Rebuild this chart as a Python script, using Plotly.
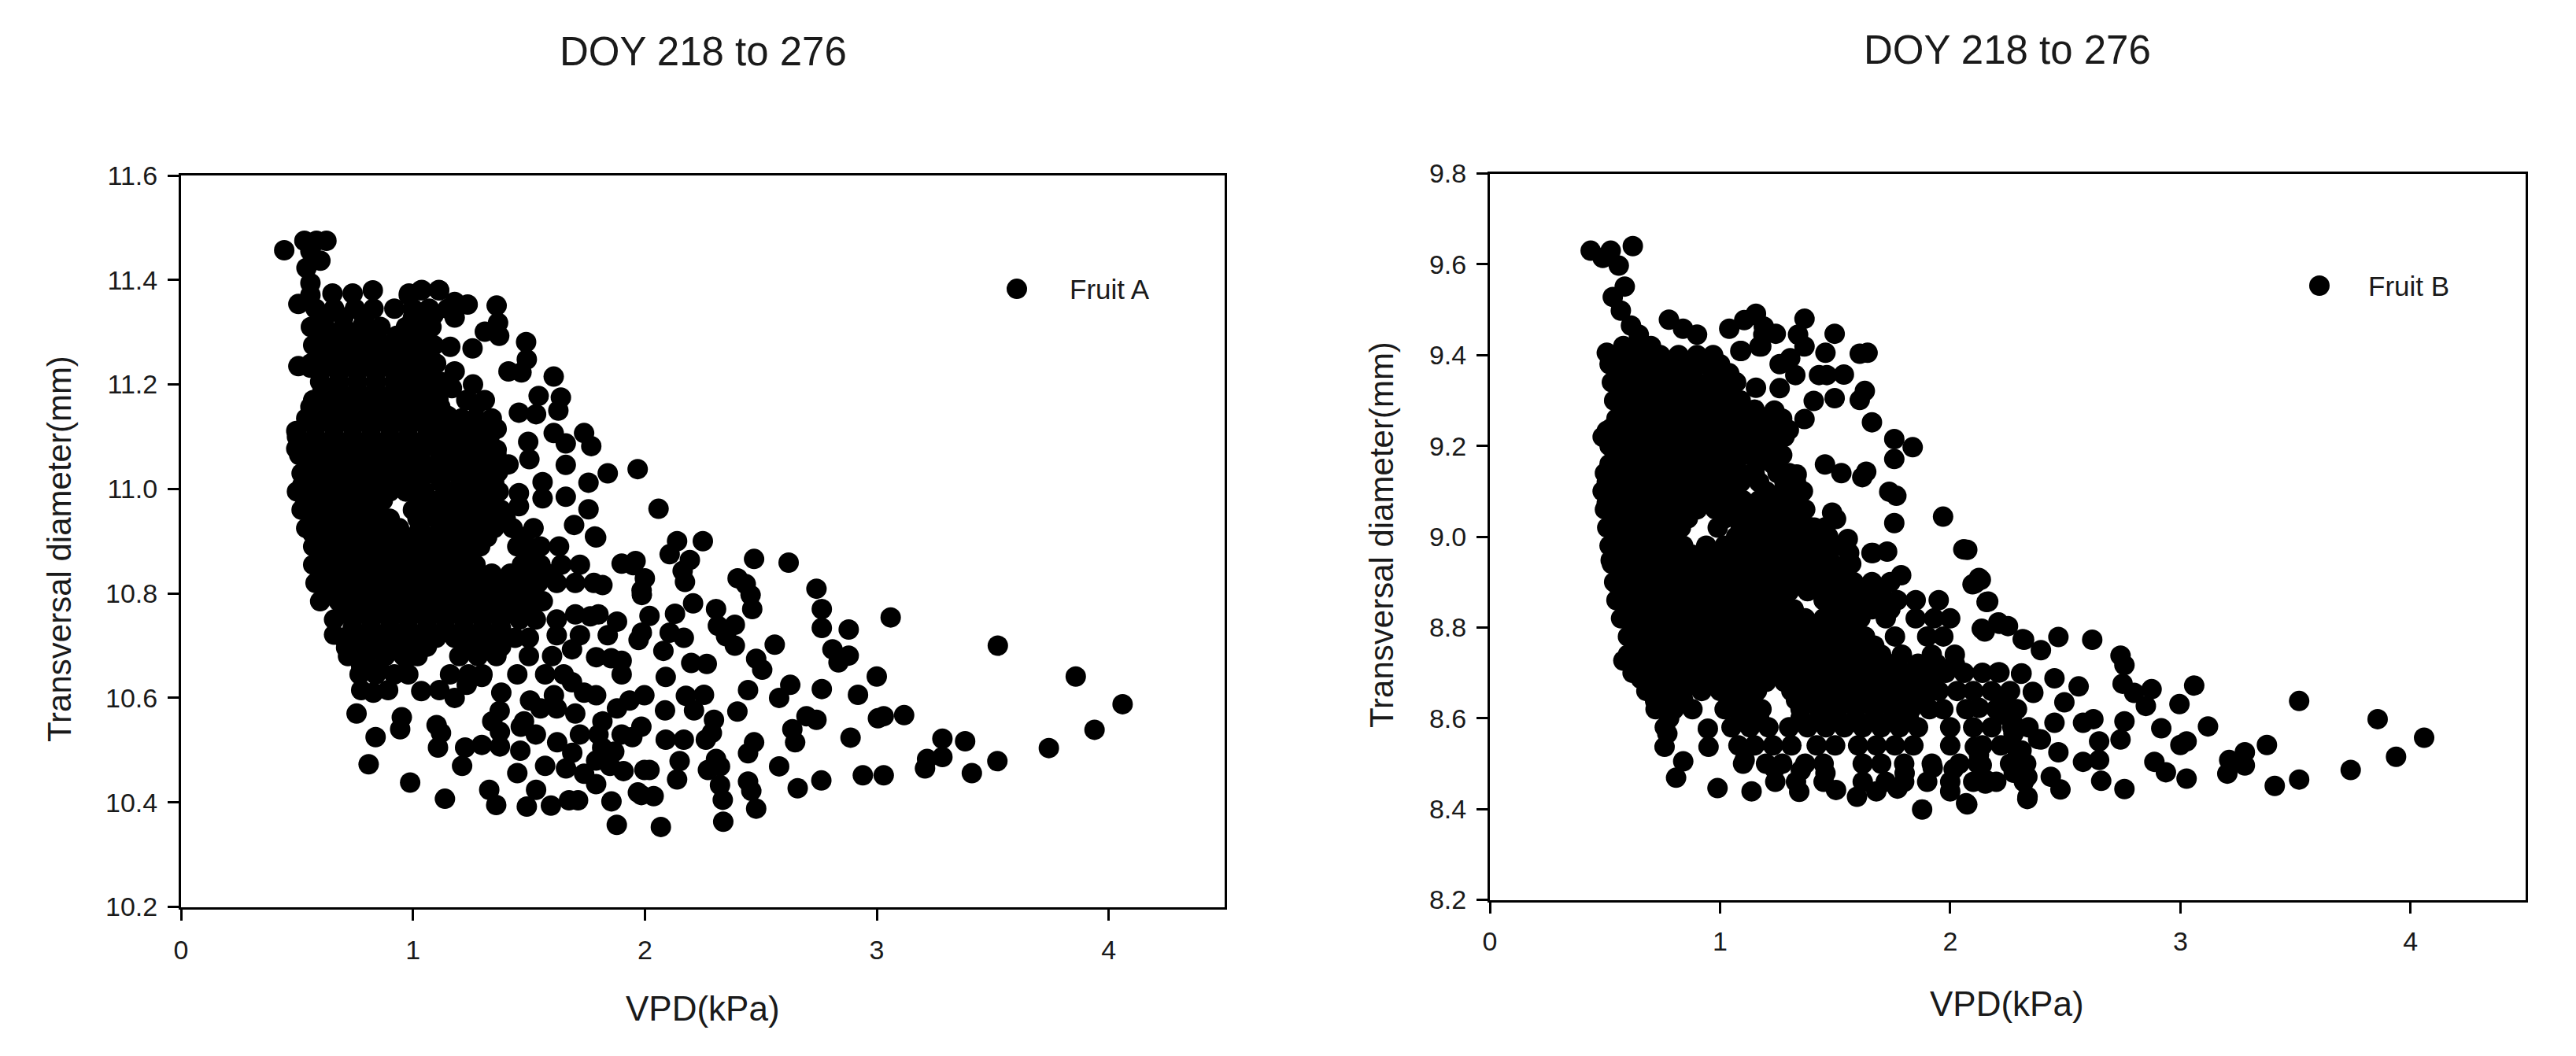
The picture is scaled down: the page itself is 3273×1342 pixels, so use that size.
import plotly.graph_objects as go

W, H = 3273, 1342
PAGE_GAP = 8  # browser body margin in the page that write_html makes

title_text = 'DOY 218 to 276'
xlabel = 'VPD(kPa)'
ylabel = 'Transversal diameter(mm)'
x_ticks = [0, 1, 2, 3, 4]
a_ticks = [10.2, 10.4, 10.6, 10.8, 11.0, 11.2, 11.4, 11.6]
b_ticks = [8.2, 8.4, 8.6, 8.8, 9.0, 9.2, 9.4, 9.6, 9.8]

# Fruit A: points that can be told apart, (VPD, diameter)
fruit_a_points = [
    (2.059, 10.962), (2.139, 10.900), (2.25, 10.900), (2.107, 10.875), (2.194, 10.864), (2.163, 10.843),
    (2.173, 10.822), (2.471, 10.866), (2.62, 10.859), (2.40, 10.829), (2.435, 10.818), (2.456, 10.797),
    (2.463, 10.77), (2.74, 10.809), (2.763, 10.77), (2.763, 10.734), (3.06, 10.754), (2.879, 10.731),
    (3.522, 10.70), (3.858, 10.641), (4.06, 10.588), (3.939, 10.539), (3.742, 10.504), (3.52, 10.479),
    (3.41, 10.456), (3.381, 10.517), (3.283, 10.522), (3.283, 10.487), (3.217, 10.483), (3.208, 10.465),
    (3.118, 10.567), (3.03, 10.565), (3.005, 10.561), (3.0, 10.641), (2.919, 10.606), (2.809, 10.693),
    (2.835, 10.668), (2.879, 10.681), (3.03, 10.452), (2.94, 10.452), (2.887, 10.524), (2.763, 10.617),
    (2.627, 10.625), (2.579, 10.6), (2.56, 10.702), (2.48, 10.675), (2.506, 10.654), (2.445, 10.615),
    (2.399, 10.574), (2.697, 10.565), (2.74, 10.558), (2.636, 10.54), (2.648, 10.515), (2.761, 10.442),
    (2.659, 10.427), (2.579, 10.469), (2.471, 10.515), (2.445, 10.494), (2.445, 10.44), (2.459, 10.422),
    (2.48, 10.388), (2.338, 10.363), (2.336, 10.405), (2.324, 10.433), (2.324, 10.469), (2.272, 10.462),
    (2.307, 10.483), (2.298, 10.558), (2.289, 10.533), (2.263, 10.52), (2.168, 10.52), (2.09, 10.52),
    (2.15, 10.479), (2.139, 10.444), (2.02, 10.462), (2.038, 10.412), (2.069, 10.353), (1.97, 10.419),
    (2.087, 10.576), (2.212, 10.576), (2.255, 10.606), (2.177, 10.604), (2.09, 10.64), (2.2, 10.667),
    (2.267, 10.665), (2.08, 10.69), (2.107, 10.725), (2.168, 10.715), (2.13, 10.761), (2.208, 10.781),
    (2.307, 10.77), (2.315, 10.738), (2.388, 10.74), (2.35, 10.718), (2.388, 10.70), (2.02, 10.757),
    (1.987, 10.725), (2.0, 10.829), (1.95, 10.854), (1.987, 10.797),
    (1.038, 11.381), (1.112, 11.381), (0.982, 11.371), (1.18, 11.358), (1.236, 11.353), (1.089, 11.333),
    (1.18, 11.328), (1.361, 11.351), (1.367, 11.318), (1.31, 11.301), (1.372, 11.293), (1.161, 11.272),
    (1.257, 11.269), (1.488, 11.281), (1.491, 11.248), (1.412, 11.225), (1.468, 11.223), (1.18, 11.225),
    (1.607, 11.215), (1.542, 11.178), (1.638, 11.175), (1.627, 11.15), (1.457, 11.146), (1.531, 11.143),
    (1.259, 11.2), (1.168, 11.193), (1.276, 11.162), (1.118, 11.157), (1.607, 11.107), (1.659, 11.087),
    (1.738, 11.107), (1.769, 11.082), (1.497, 11.09), (1.502, 11.057), (1.361, 11.115), (1.361, 11.075),
    (1.172, 11.082), (1.659, 11.046), (1.84, 11.03), (1.969, 11.038), (1.559, 11.013), (1.757, 11.012),
    (1.659, 10.985), (1.457, 10.992), (1.559, 10.982), (1.757, 10.961), (1.785, 10.909), (1.695, 10.931),
    (1.457, 10.967), (1.367, 11.032), (1.412, 11.047),
    (0.445, 11.457), (0.532, 11.475), (0.584, 11.475), (0.627, 11.475), (0.558, 11.455), (0.601, 11.437),
    (0.541, 11.423), (0.558, 11.394), (0.506, 11.354), (0.558, 11.371), (0.506, 11.235), (0.558, 11.232),
    (0.558, 11.157), (0.497, 11.111), (0.497, 11.077), (0.523, 11.007), (0.532, 10.967), (0.567, 10.915),
    (0.653, 11.374), (0.74, 11.374), (0.827, 11.38), (0.983, 11.374), (1.035, 11.38), (1.113, 11.38),
    (0.757, 10.57), (0.952, 10.563), (0.945, 10.54), (0.839, 10.525), (0.809, 10.473), (0.988, 10.438),
    (1.138, 10.407), (1.102, 10.548), (1.121, 10.533), (1.108, 10.505), (1.329, 10.424), (1.359, 10.395),
    (1.212, 10.47), (1.225, 10.505), (1.297, 10.51), (1.375, 10.507), (1.463, 10.499), (1.45, 10.456),
    (1.342, 10.555), (1.375, 10.535), (1.465, 10.545), (1.622, 10.515), (1.491, 10.392), (1.531, 10.424),
    (1.595, 10.394), (1.673, 10.404), (1.712, 10.404), (1.856, 10.402), (1.879, 10.357), (1.985, 10.414),
    (1.66, 10.465), (1.738, 10.455), (1.687, 10.495), (1.79, 10.48), (1.816, 10.505), (1.868, 10.497),
    (1.79, 10.435), (1.908, 10.46), (1.998, 10.462), (1.946, 10.525), (1.817, 10.555), (1.7, 10.57),
    (1.738, 10.61), (1.686, 10.63), (1.79, 10.605), (1.934, 10.595), (1.985, 10.545), (1.998, 10.605),
    (1.608, 10.605), (1.505, 10.595), (1.381, 10.61), (1.374, 10.575), (1.479, 10.555), (0.777, 10.615),
    (0.829, 10.61), (0.893, 10.615), (1.036, 10.613), (1.114, 10.615), (1.18, 10.6), (1.232, 10.625),
    (1.297, 10.64), (0.66, 10.721), (0.712, 10.696), (0.777, 10.66), (0.855, 10.655), (0.971, 10.675),
    (1.686, 10.693), (1.79, 10.678), (1.855, 10.676), (1.9, 10.671), (1.88, 10.746), (1.973, 10.711),
    (1.765, 10.756), (1.79, 10.907), (1.9, 10.857), (1.96, 10.862), (1.986, 10.806), (1.817, 10.816),
]

fruit_a_rows = [
    (11.345, [.58, .66, .75, .83, .92, 1.0, 1.07, 1.15]),
    (11.328, [.62, .70, .79, 1.0, 1.06]),
    (11.31, [.56, .62, .70, .78, .86, .97, 1.03, 1.08]),
    (11.293, [.60, .68, .76, .84, .93, .99, 1.05]),
    (11.275, [.57, .65, .73, .81, .89, .95, 1.01, 1.09]),
    (11.258, [.61, .69, .77, .85, .92, 1.0, 1.07]),
    (11.24, [.56, .64, .72, .80, .88, .96, 1.04, 1.1]),
    (11.223, [.6, .68, .76, .84, .92, 1.0, 1.06]),
    (11.205, [.6, .68, .76, .84, .92, .99, 1.07, 1.12]),
    (11.188, [.61, .68, .76, .84, .92, 1.0, 1.08]),
    (11.17, [.57, .64, .72, .8, .88, .96, 1.04, 1.11, 1.23, 1.31]),
    (11.153, [.6, .68, .76, .84, .92, 1.0, 1.07]),
    (11.14, [1.15]),
    (11.135, [.54, .62, .7, .78, .86, .94, 1.02, 1.1, 1.21, 1.27, 1.34]),
    (11.118, [.58, .66, .74, .82, .9, .98, 1.06, 1.23, 1.3]),
    (11.11, [1.13, 1.17]),
    (11.10, [.5, .58, .66, .74, .82, .9, .98, 1.06, 1.19, 1.25, 1.33]),
    (11.083, [.54, .62, .7, .78, .86, .94, 1.0, 1.08, 1.13, 1.23, 1.3]),
    (11.065, [.51, .59, .67, .75, .83, .91, .97, 1.03, 1.14, 1.21, 1.28, 1.36]),
    (11.048, [.56, .64, .72, .8, .88, .96, 1.04, 1.1, 1.16, 1.23, 1.3]),
    (11.03, [.52, .6, .68, .76, .84, .92, 1.0, 1.08, 1.12, 1.19, 1.26, 1.34]),
    (11.013, [.55, .63, .71, .79, .87, .95, 1.03, 1.12, 1.21, 1.28, 1.35]),
    (10.995, [.5, .58, .66, .74, .82, .9, .97, 1.05, 1.17, 1.23, 1.3, 1.37]),
    (10.978, [.56, .64, .72, .8, .87, 1.03, 1.11, 1.19, 1.27, 1.34]),
    (10.96, [.52, .6, .68, .76, .84, 1.0, 1.07, 1.15, 1.22, 1.3, 1.38]),
    (10.943, [.58, .66, .74, .82, .9, 1.02, 1.1, 1.18, 1.25, 1.32, 1.4]),
    (10.925, [.54, .62, .7, .78, .86, .94, 1.03, 1.12, 1.2, 1.27, 1.35, 1.43, 1.52]),
    (10.908, [.6, .68, .76, .84, .92, 1.0, 1.08, 1.16, 1.25, 1.32, 1.48]),
    (10.89, [.57, .65, .73, .81, .89, .97, 1.05, 1.13, 1.2, 1.29, 1.45, 1.55, 1.63]),
    (10.873, [.6, .68, .76, .84, .92, 1.0, 1.08, 1.16, 1.24, 1.5]),
    (10.855, [.57, .63, .71, .79, .87, .95, 1.03, 1.11, 1.19, 1.27, 1.47, 1.55, 1.64, 1.72]),
    (10.838, [.61, .69, .77, .85, .93, 1.01, 1.09, 1.17, 1.25, 1.34, 1.42, 1.5, 1.58]),
    (10.82, [.58, .66, .74, .82, .9, .98, 1.06, 1.14, 1.22, 1.3, 1.38, 1.46, 1.54, 1.62, 1.7, 1.78]),
    (10.803, [.63, .71, .79, .87, .95, 1.03, 1.11, 1.19, 1.27, 1.35, 1.43, 1.51]),
    (10.785, [.6, .68, .76, .84, .92, 1.0, 1.08, 1.16, 1.24, 1.32, 1.4, 1.48, 1.56]),
    (10.768, [.7, .78, .86, .94, 1.02, 1.1, 1.18, 1.26, 1.34, 1.42, 1.5]),
    (10.76, [1.7, 1.8]),
    (10.75, [.66, .74, .82, .9, .98, 1.06, 1.14, 1.22, 1.3, 1.38, 1.46, 1.53, 1.62]),
    (10.733, [.74, .82, .9, .98, 1.06, 1.14, 1.22, 1.3, 1.38]),
    (10.72, [1.62, 1.72, 1.84]),
    (10.715, [.7, .78, .86, .94, 1.02, 1.1, 1.18, 1.26, 1.34, 1.44, 1.5]),
    (10.698, [.76, .84, .92, .99, 1.06, 1.22, 1.3, 1.38]),
    (10.68, [.72, .8, .88, .96, 1.02, 1.2, 1.28, 1.36, 1.5, 1.6]),
    (10.645, [.77, .84, .92, .98, 1.16, 1.24, 1.3, 1.45, 1.57, 1.65, 1.9]),
    (10.58, [1.55, 1.62, 1.88]),
    (10.53, [1.53, 1.72, 1.8, 1.9]),
    (10.47, [1.57, 1.85]),
]

# Fruit B: points that can be told apart, (VPD, diameter)
fruit_b_points = [
    (1.156, 9.491), (1.105, 9.477), (1.19, 9.463), (1.242, 9.447), (1.179, 9.419), (1.088, 9.409),
    (1.367, 9.48), (1.339, 9.445), (1.367, 9.419), (1.498, 9.447), (1.607, 9.403), (1.641, 9.405),
    (1.458, 9.405), (1.259, 9.38), (1.305, 9.393), (1.327, 9.356), (1.43, 9.356), (1.464, 9.356),
    (1.538, 9.357), (1.156, 9.328), (1.259, 9.327), (1.407, 9.299), (1.498, 9.305), (1.629, 9.321),
    (1.607, 9.301), (1.66, 9.252), (1.757, 9.215), (1.837, 9.197), (1.757, 9.171), (1.456, 9.159),
    (1.527, 9.14), (1.635, 9.143), (1.618, 9.131), (1.735, 9.099), (1.766, 9.09), (1.969, 9.044),
    (1.757, 9.03), (1.487, 9.053), (1.504, 9.039), (2.057, 8.972), (1.555, 8.995), (1.658, 8.964),
    (1.726, 8.967), (1.561, 8.964), (1.787, 8.915), (2.125, 8.909), (2.097, 8.895), (1.236, 9.278),
    (1.367, 9.259), (1.173, 9.243), (1.299, 9.235), (1.242, 9.246), (1.242, 9.194), (1.333, 9.137),
    (1.253, 9.142), (1.151, 9.137), (1.344, 9.091), (1.23, 9.091), (1.179, 9.079), (1.299, 9.056),
    (1.162, 9.027), (1.39, 9.021), (1.458, 9.021), (1.116, 8.981), (1.23, 8.97), (1.424, 8.975),
    (0.438, 9.63), (0.525, 9.63), (0.621, 9.64), (0.49, 9.614), (0.56, 9.597), (0.586, 9.551),
    (0.534, 9.528), (0.569, 9.498), (0.613, 9.465), (0.647, 9.445), (0.508, 9.405), (0.778, 9.478),
    (0.839, 9.458), (0.9, 9.445), (1.04, 9.458), (1.154, 9.488), (1.188, 9.445), (1.092, 9.409),
    (1.171, 9.419), (0.508, 9.233), (0.543, 9.18), (0.508, 9.12), (0.508, 9.074), (0.525, 9.021),
    (0.525, 8.948), (0.56, 8.889),
    (0.58, 8.727), (0.656, 8.687), (0.718, 8.638), (0.779, 8.6), (0.771, 8.566), (0.759, 8.537),
    (0.84, 8.505), (0.809, 8.469), (0.989, 8.446), (1.137, 8.439), (1.344, 8.438), (0.947, 8.577),
    (0.95, 8.537), (1.107, 8.508), (1.237, 8.488), (1.351, 8.485), (1.458, 8.479), (1.504, 8.442),
    (1.595, 8.427), (1.679, 8.439), (1.771, 8.445), (1.878, 8.399), (1.802, 8.479), (1.924, 8.491),
    (2.015, 8.488), (2.0, 8.439), (2.069, 8.413), (2.153, 8.456), (2.336, 8.427), (2.321, 8.468),
    (2.107, 8.537), (2.137, 8.497), (2.29, 8.531), (2.214, 8.701), (2.308, 8.698), (2.321, 8.773),
    (2.214, 8.808), (2.137, 8.797), (2.165, 8.857), (2.122, 8.903), (2.061, 8.972), (1.664, 8.964),
    (2.359, 8.658), (2.382, 8.554), (2.244, 8.606), (2.275, 8.566),
    (2.074, 8.971), (2.133, 8.905), (2.108, 8.897), (2.158, 8.856), (2.209, 8.811), (2.251, 8.803),
    (2.15, 8.791), (2.315, 8.774), (2.47, 8.779), (2.394, 8.75), (2.617, 8.773), (2.74, 8.738),
    (2.757, 8.717), (2.875, 8.664), (3.06, 8.672), (2.996, 8.631), (3.516, 8.638), (3.857, 8.598),
    (4.059, 8.557), (3.937, 8.515), (3.74, 8.486), (3.516, 8.465), (3.41, 8.451), (3.376, 8.541),
    (3.28, 8.525), (3.212, 8.508), (3.28, 8.496), (3.204, 8.478), (3.12, 8.582), (2.917, 8.578),
    (3.027, 8.549), (3.0, 8.541), (2.887, 8.504), (2.937, 8.481), (3.027, 8.467), (2.757, 8.444),
    (2.656, 8.462), (2.647, 8.508), (2.577, 8.504), (2.74, 8.553), (2.647, 8.549), (2.757, 8.593),
    (2.622, 8.598), (2.577, 8.59), (2.749, 8.676), (2.799, 8.656), (2.85, 8.627), (2.496, 8.635),
    (2.453, 8.59), (2.394, 8.553), (2.47, 8.525), (2.437, 8.471), (2.479, 8.443), (2.335, 8.422),
    (2.335, 8.471), (2.276, 8.48), (2.31, 8.529), (2.276, 8.586), (2.243, 8.635), (2.158, 8.463),
    (2.125, 8.52), (2.125, 8.623), (2.361, 8.656), (2.453, 8.688), (2.558, 8.67), (2.209, 8.701),
    (2.31, 8.699), (2.074, 8.41),
]

fruit_b_rows = [
    (9.42, [.58, .64, .7]),
    (9.40, [.55, .62, .68, .74, .82, .9, .97]),
    (9.38, [.52, .6, .68, .76, .84, .93, 1.0]),
    (9.36, [.56, .64, .72, .8, .88, .98, 1.04]),
    (9.34, [.53, .61, .69, .77, .85, .95, 1.02, 1.07]),
    (9.32, [.58, .66, .74, .82, .9, .98, 1.05]),
    (9.30, [.54, .62, .7, .78, .86, .94, 1.02, 1.09]),
    (9.28, [.58, .66, .74, .82, .9, .98, 1.06, 1.15]),
    (9.26, [.55, .63, .71, .79, .87, .95, 1.03, 1.11, 1.19, 1.27]),
    (9.24, [.53, .6, .68, .76, .84, .92, 1.0, 1.08, 1.16, 1.24]),
    (9.22, [.49, .57, .65, .73, .81, .89, .97, 1.05, 1.13, 1.21, 1.28]),
    (9.20, [.52, .6, .68, .76, .84, .92, 1.0, 1.08, 1.16, 1.24]),
    (9.18, [.55, .63, .71, .79, .87, .95, 1.03, 1.1, 1.2, 1.27]),
    (9.16, [.52, .6, .68, .76, .84, .92, 1.0, 1.07, 1.16, 1.23]),
    (9.14, [.5, .58, .66, .74, .82, .9, .98, 1.06, 1.14, 1.25, 1.3]),
    (9.12, [.53, .61, .69, .77, .85, .93, 1.01, 1.09, 1.17, 1.28, 1.33]),
    (9.10, [.49, .57, .65, .73, .81, .89, .97, 1.05, 1.2, 1.28, 1.36]),
    (9.08, [.53, .61, .69, .77, .85, .93, 1.01, 1.1, 1.17, 1.25, 1.33]),
    (9.06, [.5, .58, .66, .74, .82, .9, .98, 1.06, 1.14, 1.22, 1.3, 1.37]),
    (9.04, [.54, .62, .7, .78, .86, 1.02, 1.1, 1.18, 1.26, 1.34]),
    (9.02, [.51, .59, .67, .75, .83, .99, 1.09, 1.17, 1.25, 1.33, 1.41]),
    (9.0, [.55, .63, .71, .79, 1.07, 1.15, 1.23, 1.31, 1.39, 1.47]),
    (8.98, [.52, .6, .68, .76, .84, .94, 1.02, 1.12, 1.2, 1.28, 1.36, 1.44, 1.52]),
    (8.96, [.56, .64, .72, .8, .88, .97, 1.06, 1.15, 1.23, 1.31, 1.39, 1.47]),
    (8.94, [.53, .61, .69, .77, .85, .93, 1.01, 1.09, 1.17, 1.25, 1.33, 1.41, 1.49, 1.57]),
    (8.92, [.57, .65, .73, .81, .89, .97, 1.05, 1.13, 1.21, 1.29, 1.37, 1.45, 1.53]),
    (8.90, [.54, .62, .7, .78, .86, .94, 1.02, 1.1, 1.18, 1.26, 1.34, 1.42, 1.5, 1.58, 1.66, 1.74]),
    (8.88, [.58, .66, .74, .82, .9, .98, 1.06, 1.14, 1.22, 1.3, 1.38, 1.46, 1.54, 1.62, 1.7]),
    (8.86, [.55, .63, .71, .79, .87, .95, 1.03, 1.11, 1.19, 1.27, 1.45, 1.53, 1.61, 1.69, 1.77, 1.85, 1.95]),
    (8.84, [.6, .68, .76, .84, .92, 1.0, 1.08, 1.16, 1.24, 1.32, 1.5, 1.58, 1.66, 1.74]),
    (8.82, [.57, .65, .73, .81, .89, .97, 1.05, 1.13, 1.21, 1.29, 1.37, 1.45, 1.53, 1.61, 1.72, 1.85, 1.93, 2.0]),
    (8.80, [.62, .7, .78, .86, .94, 1.02, 1.1, 1.18, 1.26, 1.34, 1.42, 1.5, 1.58]),
    (8.78, [.6, .68, .76, .84, .92, 1.0, 1.08, 1.16, 1.24, 1.32, 1.4, 1.48, 1.56, 1.63, 1.76, 1.9, 1.97]),
    (8.76, [.63, .71, .79, .87, .95, 1.03, 1.11, 1.19, 1.27, 1.35, 1.43, 1.51, 1.59, 1.67]),
    (8.74, [.6, .66, .74, .82, .9, .98, 1.06, 1.14, 1.22, 1.3, 1.38, 1.46, 1.54, 1.62, 1.7, 1.79, 1.92, 2.02]),
    (8.72, [.64, .72, .8, .88, .96, 1.04, 1.12, 1.2, 1.28, 1.36, 1.44, 1.52, 1.6, 1.68, 1.76, 1.86, 1.94, 2.02]),
    (8.70, [.62, .7, .78, .86, .94, 1.02, 1.1, 1.18, 1.26, 1.34, 1.42, 1.5, 1.58, 1.66, 1.74, 1.82, 1.9, 1.98, 2.06, 2.14]),
    (8.68, [.72, .8, .88, .96, 1.04, 1.12, 1.2, 1.28, 1.36, 1.44, 1.52, 1.6, 1.68, 1.76, 1.84, 1.92]),
    (8.66, [.68, .76, .84, .92, 1.0, 1.08, 1.16, 1.31, 1.39, 1.47, 1.55, 1.63, 1.71, 1.79, 1.87, 1.95, 2.03, 2.1, 2.18, 2.26]),
    (8.64, [.76, .84, 1.06, 1.14, 1.33, 1.41, 1.49, 1.57, 1.65, 1.73, 1.81, 1.89]),
    (8.62, [.72, .8, .88, 1.02, 1.1, 1.18, 1.35, 1.43, 1.51, 1.59, 1.67, 1.75, 1.83, 1.91, 1.97, 2.07, 2.2, 2.29]),
    (8.60, [1.09, 1.17, 1.35, 1.43, 1.51, 1.59, 1.67, 1.75, 1.82]),
    (8.58, [.76, 1.05, 1.13, 1.21, 1.3, 1.38, 1.46, 1.54, 1.62, 1.7, 1.78, 1.86, 2.0, 2.1, 2.18, 2.27, 2.34]),
    (8.54, [1.08, 1.15, 1.23, 1.31, 1.42, 1.5, 1.6, 1.68, 1.76, 1.84, 2.0, 2.14, 2.22]),
    (8.50, [1.1, 1.2, 1.27, 1.37, 1.45, 1.62, 1.7, 1.8, 1.92, 2.04, 2.12, 2.26, 2.33]),
    (8.46, [1.24, 1.33, 1.45, 1.62, 1.72, 1.8, 1.9, 2.0, 2.1, 2.2, 2.32]),
]

# single legend dots, sat on the plot like in SigmaPlot
legend_a = (3.604, 11.383)
legend_b = (3.604, 9.553)


def flatten(points, rows):
    xs = [p[0] for p in points]
    ys = [p[1] for p in points]
    for y, row in rows:
        for x in row:
            xs.append(x)
            ys.append(y)
    return xs, ys


def xdom(left, right):
    return [(left - PAGE_GAP) / W, (right - PAGE_GAP) / W]


def ydom(top, bottom):
    return [1 - (bottom - PAGE_GAP) / H, 1 - (top - PAGE_GAP) / H]


font_name = 'Liberation Sans'
ink = '#1a1a1a'
dot = dict(color='black', size=26, line=dict(width=0))

fig = go.Figure()

ax, ay = flatten(fruit_a_points, fruit_a_rows)
bx, by = flatten(fruit_b_points, fruit_b_rows)
fig.add_trace(go.Scatter(x=ax, y=ay, mode='markers', marker=dot, xaxis='x', yaxis='y', name='Fruit A'))
fig.add_trace(go.Scatter(x=[legend_a[0]], y=[legend_a[1]], mode='markers', marker=dot, xaxis='x', yaxis='y'))
fig.add_trace(go.Scatter(x=bx, y=by, mode='markers', marker=dot, xaxis='x2', yaxis='y2', name='Fruit B'))
fig.add_trace(go.Scatter(x=[legend_b[0]], y=[legend_b[1]], mode='markers', marker=dot, xaxis='x2', yaxis='y2'))

# automargin off, the default template would squeeze the plot areas otherwise
axis_style = dict(
    automargin=False, showgrid=False, zeroline=False, showline=True, linecolor='black', linewidth=3, mirror=True,
    ticks='outside', ticklen=14, tickwidth=3, tickcolor='black',
    tickfont=dict(family=font_name, size=34, color=ink),
)

fig.update_layout(
    width=W, height=H, autosize=False,
    margin=dict(l=0, r=0, t=0, b=0),
    paper_bgcolor='white', plot_bgcolor='white',
    showlegend=False,
    xaxis=dict(domain=xdom(230, 1556), range=[0, 4.5], tickvals=x_ticks, anchor='y', ticklabelstandoff=9, **axis_style),
    yaxis=dict(domain=ydom(223, 1152.5), range=[10.2, 11.6], tickvals=a_ticks,
               ticktext=[f'{v:.1f}' for v in a_ticks], anchor='x', ticklabelstandoff=6, **axis_style),
    xaxis2=dict(domain=xdom(1893, 3209), range=[0, 4.5], tickvals=x_ticks, anchor='y2', ticklabelstandoff=7, **axis_style),
    yaxis2=dict(domain=ydom(220.5, 1143.5), range=[8.2, 9.8], tickvals=b_ticks,
                ticktext=[f'{v:.1f}' for v in b_ticks], anchor='x2', ticklabelstandoff=6, **axis_style),
)


def add_text(px, py, text, size, angle=0, anchor='center'):
    fig.add_annotation(x=(px - PAGE_GAP) / W, y=1 - (py - PAGE_GAP) / H, xref='paper', yref='paper',
                       text=text, showarrow=False, textangle=angle, xanchor=anchor, yanchor='middle',
                       font=dict(family=font_name, size=size, color=ink))


add_text(893, 65, title_text, 51)
add_text(2550, 63, title_text, 51)
add_text(893, 1281, xlabel, 44)
add_text(2550, 1275, xlabel, 44)
add_text(75, 698, ylabel, 42, angle=-90)
add_text(1755, 680, ylabel, 42, angle=-90)
add_text(1357, 367, 'Fruit A', 35, anchor='left')
add_text(3007, 363, 'Fruit B', 35, anchor='left')

fig.write_html("out.html")
